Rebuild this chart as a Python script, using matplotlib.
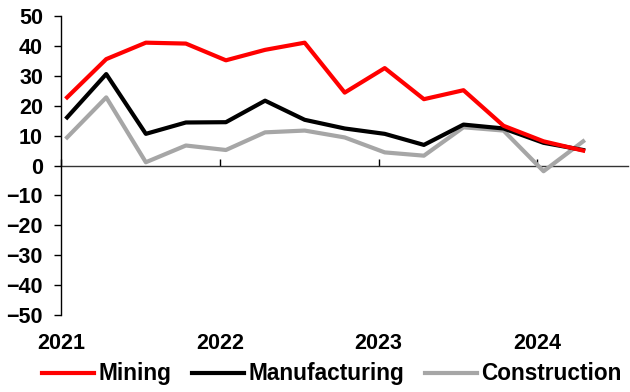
import matplotlib.pyplot as plt
import matplotlib.dates as mdates
from matplotlib.ticker import NullFormatter
import pandas as pd

plt.rcParams['font.family'] = ['Liberation Sans', 'DejaVu Sans']
plt.rcParams['font.weight'] = 'bold'

quarters = ['2021Q1', '2021Q2', '2021Q3', '2021Q4', '2022Q1', '2022Q2', '2022Q3',
            '2022Q4', '2023Q1', '2023Q2', '2023Q3', '2023Q4', '2024Q1', '2024Q2']
mining = [22.8, 35.6, 41.1, 40.8, 35.2, 38.7, 41.1, 24.4, 32.6, 22.2, 25.2, 13.3, 8.1, 5.0]
manufacturing = [16.1, 30.6, 10.6, 14.4, 14.5, 21.7, 15.3, 12.4, 10.6, 6.9, 13.7, 12.4, 7.6, 5.2]
construction = [9.4, 22.8, 1.1, 6.7, 5.2, 11.1, 11.7, 9.4, 4.4, 3.3, 12.8, 11.7, -1.9, 8.1]

# plot each quarter mid-way through its first month
dates = pd.PeriodIndex(quarters, freq='Q').to_timestamp() + pd.Timedelta(days=14)

fig = plt.figure(figsize=(6.3, 3.92), dpi=100)
ax = fig.add_axes([0.0968, 0.1964, 0.9, 0.7626])

l_con, = ax.plot(dates, construction, color='#A6A6A6', lw=3, label='Construction')
l_man, = ax.plot(dates, manufacturing, color='black', lw=3, label='Manufacturing')
l_min, = ax.plot(dates, mining, color='#FF0000', lw=3, label='Mining')

ax.set_ylim(-50, 50)
ax.set_yticks(range(-50, 51, 10))
ax.set_xlim(pd.Timestamp('2021-01-01'), pd.Timestamp('2024-07-27'))

for side in ['top', 'right', 'bottom']:
    ax.spines[side].set_visible(False)
ax.spines['left'].set_linewidth(1)

# year labels sit under the plot, tick marks hang off the zero line
ax.xaxis.set_major_locator(mdates.YearLocator())
ax.xaxis.set_major_formatter(mdates.DateFormatter('%Y'))
ax.tick_params(axis='x', length=0, pad=13, labelsize=15.5)
ax.tick_params(axis='y', direction='out', length=5, width=1, pad=8, labelsize=15.5)

zero = ax.secondary_xaxis(0.5)
zero.xaxis.set_major_locator(mdates.YearLocator())
zero.xaxis.set_major_formatter(NullFormatter())
zero.tick_params(axis='x', direction='out', length=5, width=1)
for sp in zero.spines.values():
    sp.set_linewidth(1)
    sp.set_color('#333333')

fig.legend([l_min, l_man, l_con], ['Mining', 'Manufacturing', 'Construction'],
           loc='center', bbox_to_anchor=(0.527, 0.046), ncol=3, frameon=False,
           fontsize=16.3, handlelength=2.3, handletextpad=0.2, columnspacing=0.9,
           borderaxespad=0, borderpad=0)

fig.savefig('out.png', dpi=100)
